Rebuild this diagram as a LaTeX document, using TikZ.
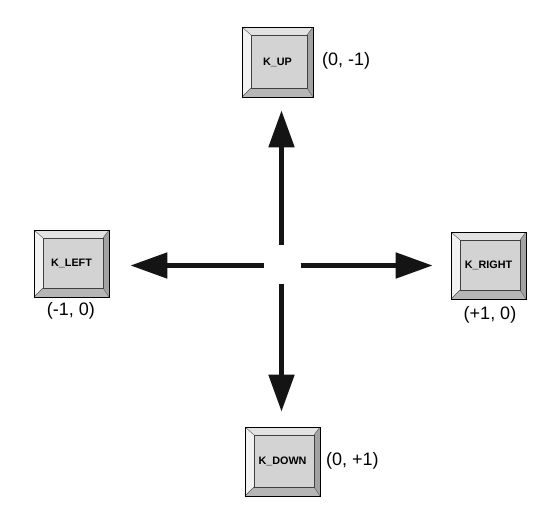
\documentclass[tikz,border=0pt]{standalone}
\usepackage{fontspec}
\setmainfont{Liberation Sans}
\usetikzlibrary{arrows.meta,calc}
\definecolor{keyface}{HTML}{D3D3D3}
\definecolor{bevtop}{HTML}{E2E2E2}
\definecolor{bevleft}{HTML}{F2F2F2}
\definecolor{bevright}{HTML}{A2A2A2}
\definecolor{bevbot}{HTML}{B6B6B6}
\tikzset{
  keycap/.style={draw=black, line width=0.7pt, fill=keyface, inner sep=0pt,
    font=\fontsize{10.8}{12}\selectfont\bfseries,
    path picture={
      \coordinate (KNW) at (path picture bounding box.north west);
      \coordinate (KNE) at (path picture bounding box.north east);
      \coordinate (KSW) at (path picture bounding box.south west);
      \coordinate (KSE) at (path picture bounding box.south east);
      \coordinate (INW) at ($(KNW)+(9pt,-8pt)$);
      \coordinate (INE) at ($(KNE)+(-6pt,-8pt)$);
      \coordinate (ISW) at ($(KSW)+(9pt,9pt)$);
      \coordinate (ISE) at ($(KSE)+(-6pt,9pt)$);
      \fill[bevtop] (KNW) -- (KNE) -- (INE) -- (INW) -- cycle;
      \fill[bevright] (KNE) -- (KSE) -- (ISE) -- (INE) -- cycle;
      \fill[bevbot] (KSW) -- (KSE) -- (ISE) -- (ISW) -- cycle;
      \fill[bevleft] (KNW) -- (KSW) -- (ISW) -- (INW) -- cycle;
      \draw[black!75, line width=0.5pt] (INW) rectangle (ISE);
      \draw[black!70, line width=0.4pt] (KNW) -- (INW) (KNE) -- (INE) (KSW) -- (ISW) (KSE) -- (ISE);
    }},
  coordlabel/.style={inner sep=0pt, font=\fontsize{18}{20}\selectfont},
  dirarrow/.style={line width=5pt, -{Triangle[length=37pt,width=25pt]}, black!92}
}
\begin{document}
\begin{tikzpicture}[x=1pt,y=-1pt]
  \useasboundingbox (0,0) rectangle (552,509);
  \fill[white] (0,0) rectangle (552,509);
  % keys
  \node[keycap, minimum width=71pt, minimum height=70pt] (up) at (277.5,62) {K\_UP};
  \node[keycap, minimum width=75pt, minimum height=67pt] (left) at (71.5,263.5) {K\_LEFT};
  \node[keycap, minimum width=75pt, minimum height=67pt] (right) at (488.5,265.5) {K\_RIGHT};
  \node[keycap, minimum width=75pt, minimum height=69pt] (down) at (282.5,461.5) {K\_DOWN};
  % labels
  \node[coordlabel, anchor=west] (upl) at (322,61) {(0, -1)};
  \node[coordlabel] (leftl) at (71,311) {(-1, 0)};
  \node[coordlabel] (rightl) at (490,315) {(+1, 0)};
  \node[coordlabel, anchor=west] (downl) at (326,461) {(0, +1)};
  % arrows
  \coordinate (c) at (281.5,265.5);
  \draw[dirarrow, shorten <=21pt, shorten >=13pt] (c) -- (c |- up.south);
  \draw[dirarrow, shorten <=18pt, shorten >=21pt] (c) -- (c -| left.east);
  \draw[dirarrow, shorten <=19pt, shorten >=18pt] (c) -- (c -| right.west);
  \draw[dirarrow, shorten <=18pt, shorten >=15pt] (c) -- (c |- down.north);
\end{tikzpicture}
\end{document}
